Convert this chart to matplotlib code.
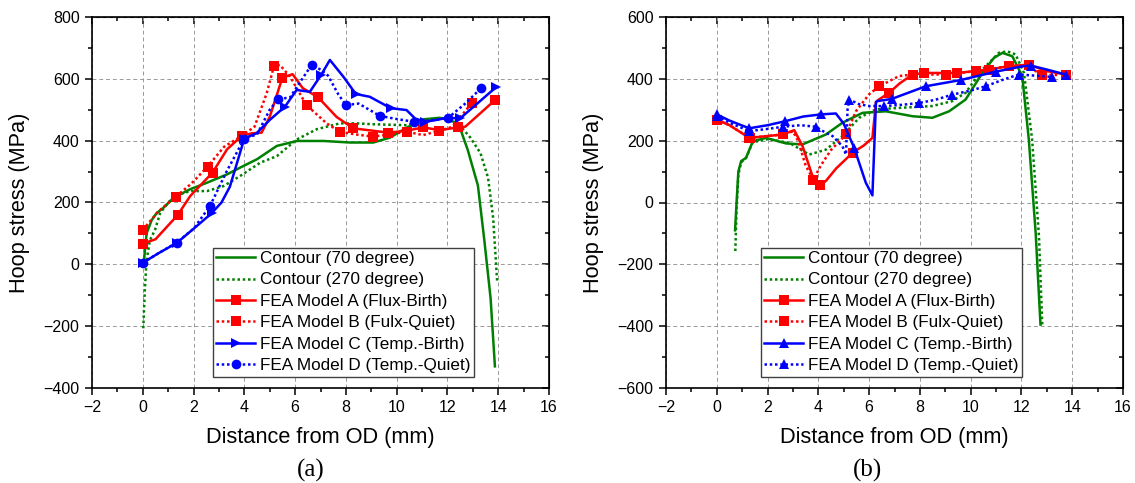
import matplotlib
matplotlib.use("Agg")
import matplotlib.pyplot as plt
from matplotlib.lines import Line2D
from matplotlib.ticker import MultipleLocator

plt.rcParams["font.family"] = ["Liberation Sans", "DejaVu Sans"]

# ---------------- panel (a) ----------------
A_C70_X = [0.05, 0.15, 0.35, 0.55, 0.8, 1.22, 1.87, 2.53, 3.32, 3.84, 4.5, 5.28, 6.07, 7.12,
           8.17, 9.08, 9.74, 10.39, 11.05, 11.7, 12.3, 12.5, 12.8, 13.2, 13.45, 13.7, 13.87]
A_C70_Y = [15, 100, 143, 166, 182, 216, 243, 264, 291, 313, 340, 383, 399, 399,
           394, 394, 410, 442, 469, 474, 460, 440, 370, 255, 80, -110, -330]

A_C270_X = [0.02, 0.08, 0.15, 0.28, 0.48, 0.69, 1.22, 1.87, 2.53, 3.18, 3.84, 4.63, 5.28, 6.07,
            6.85, 7.77, 8.43, 9.08, 10.39, 11.31, 12.1, 12.4, 12.9, 13.3, 13.6, 13.8, 13.9, 13.96]
A_C270_Y = [-207, -83, 13, 78, 111, 167, 221, 237, 237, 253, 286, 329, 350, 404,
            437, 456, 456, 453, 450, 469, 474, 458, 410, 360, 280, 150, 20, -59]

A_FA_X = [0, 0.5, 1.37, 1.87, 2.75, 3.32, 3.89, 4.3, 4.68, 5.0, 5.5, 5.9, 6.3, 6.91, 7.63,
          8.29, 9.07, 9.67, 10.39, 11.04, 11.7, 12.42, 12.7, 13.87]
A_FA_Y = [67, 81, 159, 221, 297, 372, 415, 424, 426, 477, 604, 615, 570, 540, 477,
          440, 432, 426, 432, 443, 434, 443, 445, 531]
A_FA_MK = [0, 2, 4, 6, 10, 13, 15, 17, 19, 21, 23]

A_FB_X = [0, 0.6, 1.29, 1.9, 2.55, 3.2, 3.89, 4.4, 4.88, 5.17, 5.4, 5.8, 6.45, 7.24, 7.76,
          8.4, 9.07, 9.7, 10.39, 11.04, 11.68, 12.2, 12.95]
A_FB_Y = [111, 170, 218, 260, 316, 380, 415, 445, 553, 642, 645, 607, 515, 456, 429,
          420, 413, 420, 429, 418, 432, 445, 521]
A_FB_MK = [0, 2, 4, 6, 9, 12, 14, 16, 18, 20, 22]

A_FC_X = [0, 0.6, 1.35, 2.0, 2.71, 3.1, 3.43, 4.0, 4.48, 5.0, 5.6, 6.06, 6.58, 7.02, 7.37,
          7.9, 8.39, 8.94, 9.77, 10.39, 10.72, 11.11, 11.57, 11.97, 12.5, 13.93]
A_FC_Y = [5, 35, 70, 115, 165, 200, 251, 407, 424, 467, 510, 564, 558, 612, 661,
          607, 551, 542, 505, 499, 472, 461, 467, 474, 472, 574]
A_FC_MK = [0, 2, 4, 7, 10, 13, 16, 18, 21, 24, 25]

A_FD_X = [0, 0.6, 1.33, 2.0, 2.65, 3.3, 4.0, 4.5, 5.0, 5.33, 5.8, 6.2, 6.65, 7.0, 7.3,
          7.7, 8.0, 8.5, 9.34, 10.0, 10.69, 11.3, 12.03, 12.7, 13.34]
A_FD_Y = [5, 35, 70, 115, 189, 300, 407, 420, 500, 534, 540, 590, 645, 630, 610,
          550, 515, 520, 480, 470, 461, 465, 474, 520, 571]
A_FD_MK = [0, 2, 4, 6, 9, 12, 16, 18, 20, 22, 24]

# ---------------- panel (b) ----------------
B_C70_X = [0.72, 0.78, 0.85, 0.96, 1.15, 1.42, 1.94, 2.73, 3.38, 4.3, 4.95, 5.74, 6.66,
           7.71, 8.49, 9.15, 9.8, 10.46, 10.92, 11.25, 11.64, 12.03, 12.29, 12.56, 12.75]
B_C70_Y = [-90, 0, 100, 134, 144, 198, 209, 191, 188, 220, 258, 290, 295,
           279, 274, 295, 333, 419, 468, 484, 473, 409, 204, -98, -395]

B_C270_X = [0.73, 0.78, 0.85, 0.96, 1.15, 1.42, 2.0, 2.86, 3.64, 4.3, 4.95, 5.61, 6.26,
            7.18, 8.49, 9.28, 9.8, 10.46, 11.11, 11.44, 11.77, 12.1, 12.42, 12.69, 12.82]
B_C270_Y = [-157, -20, 90, 130, 144, 195, 205, 193, 155, 171, 215, 274, 301,
            306, 312, 328, 355, 430, 484, 489, 479, 419, 204, -109, -395]

B_FA_X = [0, 0.5, 1.28, 2.0, 2.6, 3.05, 3.38, 3.75, 4.06, 4.3, 4.7, 5.35, 5.8, 6.13,
          6.27, 6.33, 6.79, 7.2, 7.71, 8.17, 9.48, 10.72, 11.5, 12.29, 13.0, 13.74]
B_FA_Y = [268, 250, 209, 215, 220, 234, 182, 90, 55, 70, 110, 161, 185, 209,
          325, 330, 355, 385, 414, 419, 419, 430, 441, 446, 425, 414]
B_FA_MK = [0, 2, 4, 8, 11, 16, 19, 20, 21, 23, 25]

B_FB_X = [0, 0.5, 1.3, 2.0, 2.6, 3.0, 3.2, 3.5, 3.8, 4.1, 4.5, 5.09, 5.3, 5.48, 6.0, 6.4,
          7.18, 7.71, 9.02, 10.2, 11.5, 12.2, 12.82, 13.5]
B_FB_Y = [268, 250, 209, 215, 220, 230, 200, 120, 74, 120, 170, 220, 260, 295, 350, 376,
          409, 414, 414, 425, 441, 440, 414, 412]
B_FB_MK = [0, 2, 4, 8, 11, 15, 17, 18, 19, 20, 22]

B_FC_X = [0, 0.5, 1.28, 2.0, 2.7, 3.4, 4.1, 4.69, 5.0, 5.41, 5.87, 6.13, 6.27, 6.33, 6.89,
          8.23, 9.6, 10.98, 12.0, 12.36, 13.0, 13.74]
B_FC_Y = [285, 265, 240, 250, 263, 278, 285, 288, 255, 177, 64, 23, 325, 328, 335,
          376, 396, 423, 440, 443, 430, 414]
B_FC_MK = [0, 2, 4, 6, 9, 14, 15, 16, 17, 19, 21]

B_FD_X = [0, 0.5, 1.28, 2.0, 2.62, 3.3, 3.9, 4.3, 4.56, 4.95, 5.09, 5.15, 5.22, 5.6, 6.0,
          6.59, 7.3, 7.97, 8.6, 9.28, 10.0, 10.59, 11.3, 11.9, 12.6, 13.2]
B_FD_Y = [280, 258, 231, 238, 245, 250, 245, 225, 215, 182, 155, 300, 333, 318, 312,
          312, 316, 322, 332, 349, 362, 376, 398, 414, 410, 406]
B_FD_MK = [0, 2, 4, 6, 12, 15, 17, 19, 21, 23, 25]

LABELS = [
    "Contour (70 degree)",
    "Contour (270 degree)",
    "FEA Model A (Flux-Birth)",
    "FEA Model B (Fulx-Quiet)",
    "FEA Model C (Temp.-Birth)",
    "FEA Model D (Temp.-Quiet)",
]

GREEN, RED, BLUE = "#008000", "#ff0000", "#0000ff"
DOT = (0, (1, 1.1))
LW = 1.8


def style_axes(ax, ylim, yticks):
    ax.set_xlim(-2, 16)
    ax.set_ylim(*ylim)
    ax.set_xticks(range(-2, 17, 2))
    ax.set_yticks(yticks)
    ax.xaxis.set_minor_locator(MultipleLocator(1))
    ax.yaxis.set_minor_locator(MultipleLocator(100))
    ax.tick_params(which="major", direction="out", length=5, width=1.1, labelsize=11.5, pad=4)
    ax.tick_params(which="minor", direction="out", length=3, width=1.1)
    for sp in ax.spines.values():
        sp.set_linewidth(1.2)
    ax.grid(True, which="major", color="0.6", linestyle=(0, (4, 3)), linewidth=0.7)
    # mirrored ticks pointing inwards on top / right
    top = ax.secondary_xaxis("top")
    top.set_xticks(range(-2, 17, 2))
    top.xaxis.set_minor_locator(MultipleLocator(1))
    top.tick_params(which="major", direction="in", length=5, width=1.1, labeltop=False)
    top.tick_params(which="minor", direction="in", length=3, width=1.1)
    right = ax.secondary_yaxis("right")
    right.set_yticks(yticks)
    right.yaxis.set_minor_locator(MultipleLocator(100))
    right.tick_params(which="major", direction="in", length=5, width=1.1, labelright=False)
    right.tick_params(which="minor", direction="in", length=3, width=1.1)
    ax.set_xlabel("Distance from OD (mm)", fontsize=15.7)
    ax.set_ylabel("Hoop stress (MPa)", fontsize=15.7)
    ax.xaxis.set_label_coords(0.5, -0.105)
    ax.yaxis.set_label_coords(-0.135, 0.5)


def draw_panel(ax, series, mk_c, mk_d, anchor):
    styles = [
        (GREEN, "-", None),
        (GREEN, DOT, None),
        (RED, "-", "s"),
        (RED, DOT, "s"),
        (BLUE, "-", mk_c),
        (BLUE, DOT, mk_d),
    ]
    handles = []
    for (x, y, mk_idx), (color, ls, marker), label in zip(series, styles, LABELS):
        ax.plot(x, y, color=color, linestyle=ls, linewidth=LW, marker=marker,
                markevery=mk_idx, markersize=7, markeredgewidth=0, zorder=3)
        handles.append(Line2D([], [], color=color, linestyle=ls, linewidth=LW,
                              marker=marker, markersize=7, markeredgewidth=0))
    leg = ax.legend(handles, LABELS, loc="lower left", bbox_to_anchor=anchor,
                    fontsize=12.3, handlelength=2.3, handletextpad=0.3,
                    labelspacing=0.38, borderpad=0.2, borderaxespad=0,
                    fancybox=False, framealpha=1, edgecolor="0.25")
    leg.get_frame().set_linewidth(1.0)
    leg.set_zorder(5)


fig = plt.figure(figsize=(11.35, 4.83), dpi=100)
ax_a = fig.add_axes([92 / 1135, 95 / 483, 457 / 1135, 371 / 483])
ax_b = fig.add_axes([666 / 1135, 95 / 483, 457 / 1135, 371 / 483])

style_axes(ax_a, (-400, 800), range(-400, 801, 200))
style_axes(ax_b, (-600, 600), range(-600, 601, 200))

series_a = [
    (A_C70_X, A_C70_Y, None),
    (A_C270_X, A_C270_Y, None),
    (A_FA_X, A_FA_Y, A_FA_MK),
    (A_FB_X, A_FB_Y, A_FB_MK),
    (A_FC_X, A_FC_Y, A_FC_MK),
    (A_FD_X, A_FD_Y, A_FD_MK),
]
series_b = [
    (B_C70_X, B_C70_Y, None),
    (B_C270_X, B_C270_Y, None),
    (B_FA_X, B_FA_Y, B_FA_MK),
    (B_FB_X, B_FB_Y, B_FB_MK),
    (B_FC_X, B_FC_Y, B_FC_MK),
    (B_FD_X, B_FD_Y, B_FD_MK),
]
draw_panel(ax_a, series_a, ">", "o", (0.264, 0.03))
draw_panel(ax_b, series_b, "^", "^", (0.207, 0.03))

fig.text(311 / 1135, 1 - 470 / 483, "(a)", ha="center", va="center",
         fontsize=18, family=["Liberation Serif", "DejaVu Serif"])
fig.text(867 / 1135, 1 - 470 / 483, "(b)", ha="center", va="center",
         fontsize=18, family=["Liberation Serif", "DejaVu Serif"])

fig.savefig("out.png", dpi=100)
